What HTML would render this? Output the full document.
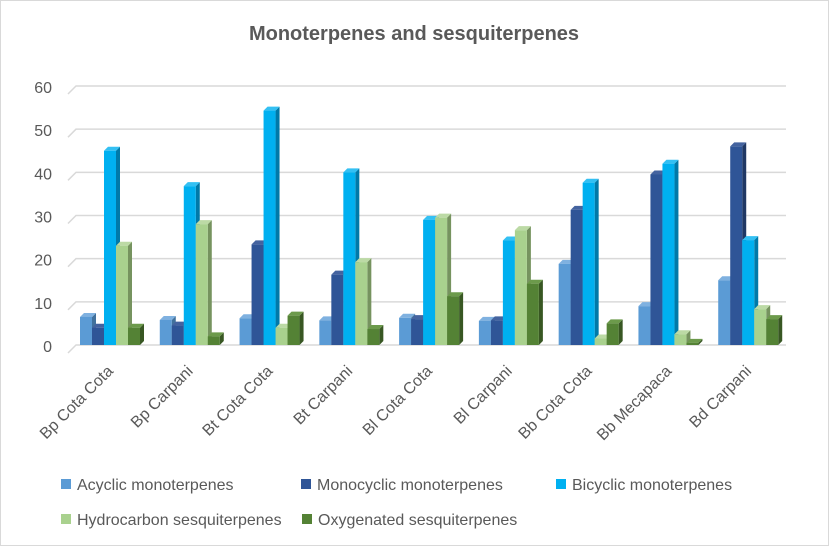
<!DOCTYPE html>
<html><head><meta charset="utf-8"><style>
body{margin:0;background:#fff}
svg{display:block;font-family:"Liberation Sans",Calibri,sans-serif}
</style></head><body>
<svg id="chart" width="829" height="546">
<rect x="0.5" y="0.5" width="828" height="545" fill="#fff" stroke="#d9d9d9"/>
<text x="414" y="40" text-anchor="middle" font-size="20" font-weight="bold" fill="#595959">Monoterpenes and sesquiterpenes</text>
<g id="grid"></g><g id="bars"></g><g id="labels"></g><g id="legend"></g>
</svg>
<script>
const categories=["Bp Cota Cota","Bp Carpani","Bt Cota Cota","Bt Carpani","Bl Cota Cota","Bl Carpani","Bb Cota Cota","Bb Mecapaca","Bd Carpani"];
const seriesNames=["Acyclic monoterpenes","Monocyclic monoterpenes","Bicyclic monoterpenes","Hydrocarbon sesquiterpenes","Oxygenated sesquiterpenes"];
const acyclic=[6.5,5.8,6.2,5.7,6.3,5.6,18.8,9,15];
const monocyclic=[4,4.5,23.3,16.3,6,5.7,31.3,39.5,46];
const bicyclic=[45,36.8,54.3,40,29,24.2,37.6,42,24.3];
const hydrocarbon=[23,28,4,19.2,29.5,26.6,1.5,2.5,8.3];
const oxygenated=[4,2,6.8,3.7,11.3,14.2,5,0.5,6];
const yTicks=[0,10,20,30,40,50,60];
const series=[acyclic,monocyclic,bicyclic,hydrocarbon,oxygenated];
const front=["#5b9bd5","#2f5597","#00b0f0","#a9d18e","#548235"];
const side=["#41719c","#203864","#0079a8","#76935f","#385723"];
const topc=["#7fb1e0","#44639f","#33c0f3","#bcdaa5","#6c9a4b"];
const NS="http://www.w3.org/2000/svg";
const x0=68,x1=786,y0=345,yMax=60,yPix=259;
const y=v=>y0-v/yMax*yPix;
const groupW=(x1-x0)/categories.length;
const barW=12,dx=4,dy=4;
function mk(t,a,p){const e=document.createElementNS(NS,t);for(const k in a)e.setAttribute(k,a[k]);p.appendChild(e);return e;}
const grid=document.getElementById('grid');
yTicks.forEach(t=>{
 const l=mk('path',{d:`M${x0} ${y(t)+8}L${x0+8} ${y(t)}L${x1} ${y(t)}`,stroke:'#d9d9d9','stroke-width':1.5,fill:'none'},grid);
 
 
 const tx=mk('text',{x:52,y:y(t)+7,'text-anchor':'end','font-size':16,fill:'#595959'},grid);
 tx.textContent=t;
 
 
});
const bars=document.getElementById('bars');
categories.forEach((c,i)=>{
 const gx=x0+i*groupW+12;
 series.forEach((s,j)=>{
  const bx=gx+j*barW,top=y(s[i]),h=y0-top;
  const g=mk('g',{},bars);
  
  
  mk('polygon',{points:`${bx+barW},${top} ${bx+barW+dx},${top-dy} ${bx+barW+dx},${y0-dy} ${bx+barW},${y0}`,fill:side[j]},g);
  mk('polygon',{points:`${bx},${top} ${bx+dx},${top-dy} ${bx+barW+dx},${top-dy} ${bx+barW},${top}`,fill:topc[j]},g);
  mk('rect',{x:bx,y:top,width:barW,height:h,fill:front[j]},g);
 });
 const lx=gx+34,ly=372;
 const t=mk('text',{x:lx,y:ly,'text-anchor':'end','font-size':16,fill:'#595959',transform:`rotate(-45 ${lx} ${ly})`},document.getElementById('labels'));
 t.textContent=c;
 
 
});
const legPos=[[61,484],[301,484],[556,484],[61,519],[302,519]];
const leg=document.getElementById('legend');
seriesNames.forEach((n,j)=>{
 const g=mk('g',{},leg);
 
 
 mk('rect',{x:legPos[j][0],y:legPos[j][1]-5,width:10,height:10,fill:front[j]},g);
 const t=mk('text',{x:legPos[j][0]+16,y:legPos[j][1]+6,'font-size':16,fill:'#595959'},g);
 t.textContent=n;
});
</script>
</body></html>
